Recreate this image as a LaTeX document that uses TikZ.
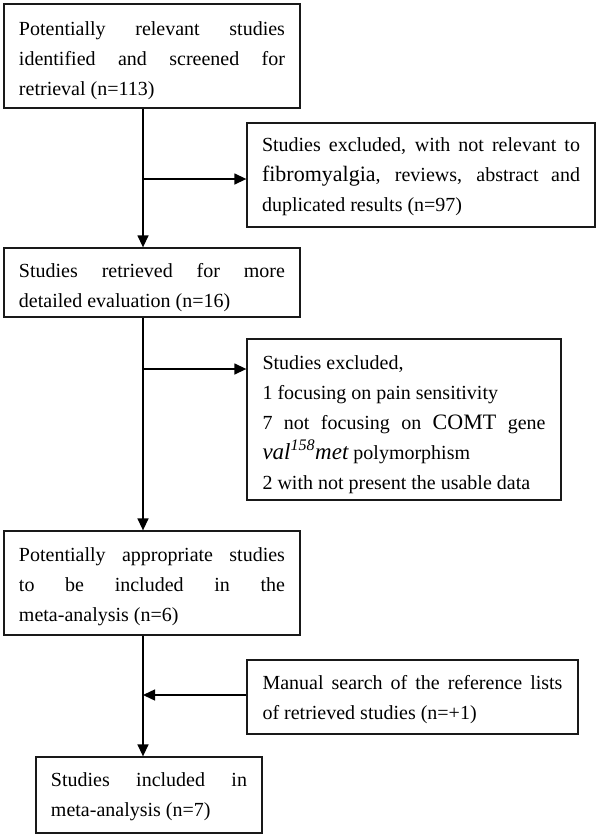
\documentclass[tikz,border=0pt]{standalone}
\usepackage{fontspec}
\setmainfont{Liberation Serif}
\usetikzlibrary{arrows.meta}
\newcommand{\toppad}[1]{\rule{0pt}{#1bp}}
\begin{document}
\begin{tikzpicture}[x=1bp,y=-1bp,
  box/.style={draw=black!90, line width=1.3bp, inner ysep=0pt, align=justify,
    font=\fontsize{20bp}{30bp}\selectfont\sloppy},
  conn/.style={draw=black, line width=1.4bp},
  arr/.style={conn, -{Triangle[length=12bp,width=11bp]}}]
\useasboundingbox (0,0) rectangle (600,837);
\coordinate (spine) at (143,0);
\node[box, text width=266bp, minimum width=296bp, minimum height=104bp] (b1) at (152,56)
  {\toppad{22.5}Potentially relevant studies\linebreak identified and screened for\linebreak retrieval (n=113)};
\node[box, text width=318bp, minimum width=348bp, minimum height=104bp] (e1) at (421,175)
  {\toppad{18}Studies excluded, with not relevant to\linebreak {\fontsize{22bp}{30bp}\selectfont fibromyalgia}, reviews, abstract and\linebreak duplicated results (n=97)};
\node[box, text width=266bp, minimum width=296bp, minimum height=69bp] (b2) at (152,282.5)
  {\toppad{24.5}Studies retrieved for more\linebreak detailed evaluation (n=16)};
\node[box, text width=283bp, minimum width=314bp, minimum height=161bp] (e2) at (404,419.5)
  {\toppad{24.5}Studies excluded,\newline 1 focusing on pain sensitivity\newline 7 not focusing on {\fontsize{22bp}{30bp}\selectfont COMT} gene\linebreak {\fontsize{23bp}{30bp}\selectfont\itshape val\textsuperscript{158}met} polymorphism\newline 2 with not present the usable data};
\node[box, text width=266bp, minimum width=296bp, minimum height=104bp] (b3) at (152,583)
  {\toppad{21}Potentially appropriate studies\linebreak to be included in the\linebreak meta-analysis (n=6)};
\node[box, text width=300bp, minimum width=331bp, minimum height=74bp] (m) at (412.5,697)
  {\toppad{19.5}Manual search of the reference lists\linebreak of retrieved studies (n=+1)};
\node[box, text width=196bp, minimum width=226bp, minimum height=76bp] (b4) at (149,795)
  {\toppad{18}Studies included in\linebreak meta-analysis (n=7)};
\coordinate (j1) at (143,179);
\coordinate (j2) at (143,369);
\coordinate (j3) at (143,695);
\draw[arr] (b1.south -| spine) -- (b2.north -| spine);
\draw[arr] (j1) -- (j1 -| e1.west);
\draw[arr] (b2.south -| spine) -- (b3.north -| spine);
\draw[arr] (j2) -- (j2 -| e2.west);
\draw[arr] (b3.south -| spine) -- (b4.north -| spine);
\draw[arr] (j3 -| m.west) -- (j3);
\end{tikzpicture}
\end{document}
